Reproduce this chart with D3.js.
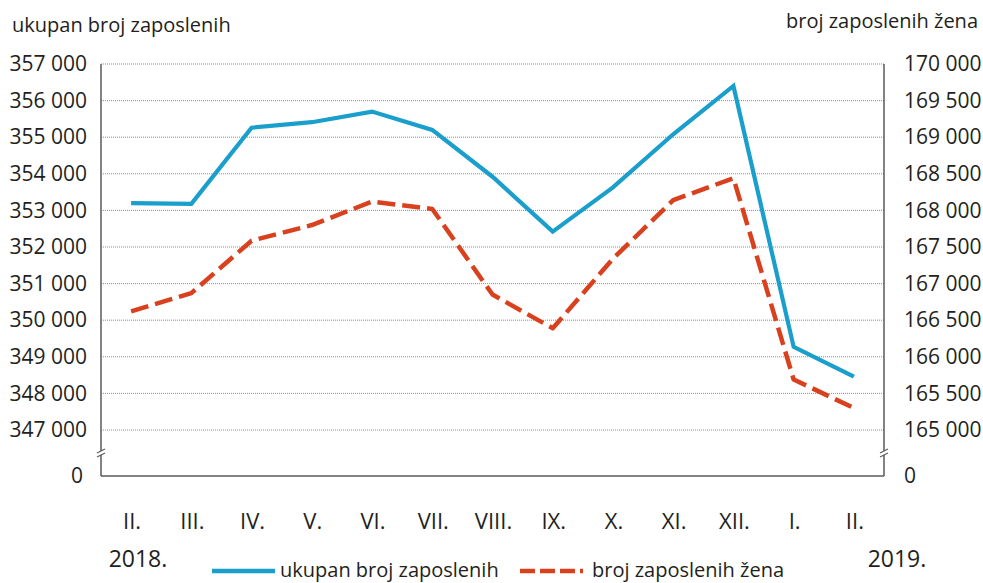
<!DOCTYPE html>
<html><head><meta charset="utf-8">
<script src="https://cdn.jsdelivr.net/npm/d3@7/dist/d3.min.js"></script>
<style>
body{margin:0;background:#fff}
text{font-family:"Open Sans",sans-serif;fill:#231f20}
</style>
</head><body>
<svg id="chart" width="983" height="583"></svg>
<script>
// ---- data ----
const months = ["II.","III.","IV.","V.","VI.","VII.","VIII.","IX.","X.","XI.","XII.","I.","II."];
const totalEmployed = [353200,353180,355260,355410,355700,355200,353920,352420,353630,355080,356400,349270,348460];
const womenEmployed = [166620,166870,167585,167800,168120,168020,166850,166390,167340,168140,168440,165690,165300];
const leftTicks = [347000,348000,349000,350000,351000,352000,353000,354000,355000,356000,357000];
const rightTicks = [165000,165500,166000,166500,167000,167500,168000,168500,169000,169500,170000];
const yearLabels = ["2018.","2019."];
const seriesNames = ["ukupan broj zaposlenih","broj zaposlenih žena"];
const leftTitle = "ukupan broj zaposlenih";
const rightTitle = "broj zaposlenih žena";
const zeroLabel = "0";

// ---- layout ----
const L = 101, R = 884, T = 64, GB = 430, AB = 476;
const blue = "#1a9fcc", red = "#d9411e", axisCol = "#5a5a5a";

const svg = d3.select("#chart");
const fmt = d3.formatLocale({decimal:",", thousands:"\u00a0", grouping:[3], currency:["",""]}).format(",d");

const x = d3.scaleBand().domain(d3.range(months.length)).range([L, R]);
const cx = i => x(i) + x.bandwidth()/2;
const yL = d3.scaleLinear().domain([347000, 357000]).range([GB, T]);
const yR = d3.scaleLinear().domain([165000, 170000]).range([GB, T]);

// gridlines
svg.append("g").selectAll("line").data(leftTicks).join("line")
  .attr("x1", L).attr("x2", R)
  .attr("y1", d => yL(d)).attr("y2", d => yL(d))
  .attr("stroke", "#8c8c8c").attr("stroke-width", 1).attr("stroke-dasharray", "1,1");

// left axis labels
const gl = svg.append("g").attr("transform", `translate(${L},0)`)
  .call(d3.axisLeft(yL).tickValues(leftTicks).tickSize(0).tickPadding(14).tickFormat(fmt));
gl.select(".domain").remove();
gl.selectAll("text").attr("font-size", 21).attr("font-family", "Open Sans").attr("fill", "#231f20");

// right axis labels
const gr = svg.append("g").attr("transform", `translate(${R},0)`)
  .call(d3.axisRight(yR).tickValues(rightTicks).tickSize(0).tickPadding(20).tickFormat(fmt));
gr.select(".domain").remove();
gr.selectAll("text").attr("font-size", 21).attr("font-family", "Open Sans").attr("fill", "#231f20");

// zero labels
svg.append("text").attr("x", 83).attr("y", AB).attr("dy", "0.35em").attr("text-anchor", "end")
  .attr("font-size", 21).text(zeroLabel);
svg.append("text").attr("x", R + 20).attr("y", AB).attr("dy", "0.35em")
  .attr("font-size", 21).text(zeroLabel);

// axis lines
const ax = svg.append("g").attr("stroke", axisCol).attr("stroke-width", 1.5).attr("fill", "none");
ax.append("line").attr("x1", L).attr("x2", L).attr("y1", T).attr("y2", AB);
ax.append("line").attr("x1", R).attr("x2", R).attr("y1", T).attr("y2", AB);
ax.append("line").attr("x1", L).attr("x2", R).attr("y1", AB).attr("y2", AB);

// axis breaks
[L, R].forEach(px => {
  svg.append("rect").attr("x", px - 3).attr("y", 451).attr("width", 6).attr("height", 4).attr("fill", "#fff");
  svg.append("line").attr("x1", px - 4).attr("y1", 453).attr("x2", px + 4).attr("y2", 449)
    .attr("stroke", axisCol).attr("stroke-width", 1.2);
  svg.append("line").attr("x1", px - 4).attr("y1", 457).attr("x2", px + 4).attr("y2", 453)
    .attr("stroke", axisCol).attr("stroke-width", 1.2);
});

// series lines
const lineL = d3.line().x((d, i) => cx(i)).y(d => yL(d));
const lineR = d3.line().x((d, i) => cx(i)).y(d => yR(d));
svg.append("path").datum(womenEmployed).attr("d", lineR)
  .attr("fill", "none").attr("stroke", red).attr("stroke-width", 4.5)
  .attr("stroke-dasharray", "18,7").attr("stroke-linejoin", "round");
svg.append("path").datum(totalEmployed).attr("d", lineL)
  .attr("fill", "none").attr("stroke", blue).attr("stroke-width", 4.2)
  .attr("stroke-linejoin", "miter");

// x labels
svg.append("g").selectAll("text").data(months).join("text")
  .attr("x", (d, i) => cx(i) + 1).attr("y", 529).attr("text-anchor", "middle")
  .attr("font-size", 22).text(d => d);

// year labels
svg.append("text").attr("x", 138).attr("y", 567).attr("text-anchor", "middle").attr("font-size", 23).text(yearLabels[0]);
svg.append("text").attr("x", 897).attr("y", 567).attr("text-anchor", "middle").attr("font-size", 23).text(yearLabels[1]);

// titles
svg.append("text").attr("x", 12).attr("y", 32).attr("font-size", 20).text(leftTitle);
svg.append("text").attr("x", 978).attr("y", 28).attr("text-anchor", "end").attr("font-size", 20).text(rightTitle);

// legend
const lg = svg.append("g");
lg.append("line").attr("x1", 212).attr("x2", 275).attr("y1", 571).attr("y2", 571)
  .attr("stroke", blue).attr("stroke-width", 4.5);
lg.append("text").attr("x", 280).attr("y", 577).attr("font-size", 20).text(seriesNames[0]);
lg.append("line").attr("x1", 520).attr("x2", 583).attr("y1", 571).attr("y2", 571)
  .attr("stroke", red).attr("stroke-width", 4.5).attr("stroke-dasharray", "15,5");
lg.append("text").attr("x", 592).attr("y", 577).attr("font-size", 20).text(seriesNames[1]);
</script>
</body></html>
